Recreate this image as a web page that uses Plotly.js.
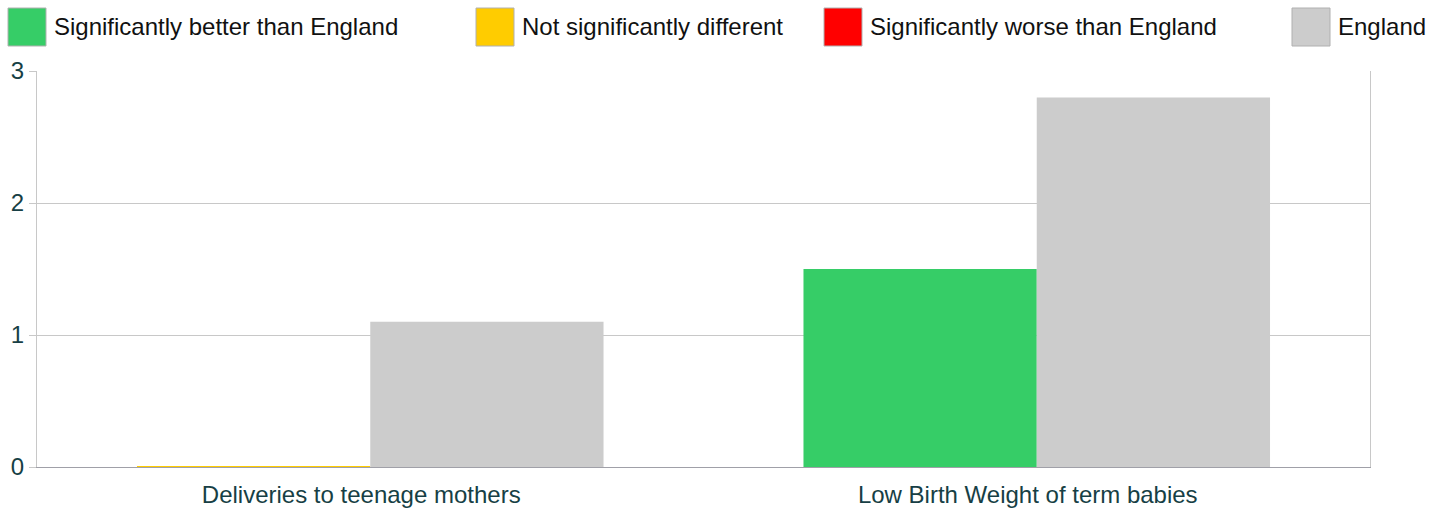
<!DOCTYPE html>
<html>
<head>
<meta charset="utf-8">
<script src="https://cdn.plot.ly/plotly-3.0.1.min.js"></script>
<style>html,body{margin:0;padding:0;background:#fff;}#chart{width:1445px;height:508px;}</style>
</head>
<body>
<div id="chart"></div>
<script>
const categories = ["Deliveries to teenage mothers", "Low Birth Weight of term babies"];
const localValues = [0.008, 1.5];
const localSignificance = ["Not significantly different", "Significantly better than England"];
const englandValues = [1.1, 2.8];
const legendLabels = ["Significantly better than England", "Not significantly different", "Significantly worse than England", "England"];
const legendColors = ["#36cd67", "#ffcc00", "#ff0000", "#cccccc"];
const yTicks = [0, 1, 2, 3];

const colorFor = {};
legendLabels.forEach((l, i) => colorFor[l] = legendColors[i]);

const W = 1445, H = 508, ML = 37, MR = 75, MT = 71, MB = 41;
const PW = W - ML - MR, PH = H - MT - MB;
const px2x = p => (p - ML) / PW;
const py2y = p => (H - MB - p) / PH;

const traces = [
  {type: "bar", x: categories, y: localValues, name: "Local",
   marker: {color: localSignificance.map(s => colorFor[s])}, hoverinfo: "skip", showlegend: false},
  {type: "bar", x: categories, y: englandValues, name: "England",
   marker: {color: colorFor["England"]}, hoverinfo: "skip", showlegend: false}
];

const boxLeft = [8, 476, 824, 1292];
const shapes = [], annotations = [];
legendLabels.forEach((label, i) => {
  shapes.push({type: "rect", xref: "paper", yref: "paper",
    xsizemode: "pixel", ysizemode: "pixel",
    xanchor: px2x(boxLeft[i]), yanchor: py2y(46),
    x0: 0, x1: 38, y0: 0, y1: 38,
    fillcolor: legendColors[i], line: {color: "#b0b0b0", width: 1}});
  annotations.push({xref: "paper", yref: "paper", x: px2x(boxLeft[i] + 44), y: py2y(27),
    xanchor: "left", yanchor: "middle", showarrow: false, text: label,
    font: {size: 24, color: "#111111"}});
});

const layout = {
  width: W, height: H,
  margin: {l: ML, r: MR, t: MT, b: MB, pad: 0},
  paper_bgcolor: "#fff", plot_bgcolor: "#fff",
  font: {family: "Liberation Sans, Arial, sans-serif", size: 24, color: "#173f45"},
  barmode: "group", bargap: 0.3, bargroupgap: 0,
  showlegend: false,
  xaxis: {type: "category", showgrid: false, showline: true, linecolor: "#a0a0a8", linewidth: 1,
    mirror: false, ticks: "", ticklabelstandoff: 6, ticklabelshift: -9,
    tickfont: {size: 24, color: "#173f45"}, fixedrange: true},
  yaxis: {range: [0, 3], tickvals: yTicks, ticktext: yTicks.map(String), showgrid: true,
    gridcolor: "#c8c8c8", gridwidth: 1, showline: true, linecolor: "#c8c8c8", mirror: true,
    ticks: "outside", ticklen: 7, tickcolor: "#c8c8c8", zeroline: false,
    tickfont: {size: 24, color: "#173f45"}, fixedrange: true},
  shapes: shapes, annotations: annotations
};

Plotly.newPlot("chart", traces, layout, {displayModeBar: false, staticPlot: true});
</script>
</body>
</html>
